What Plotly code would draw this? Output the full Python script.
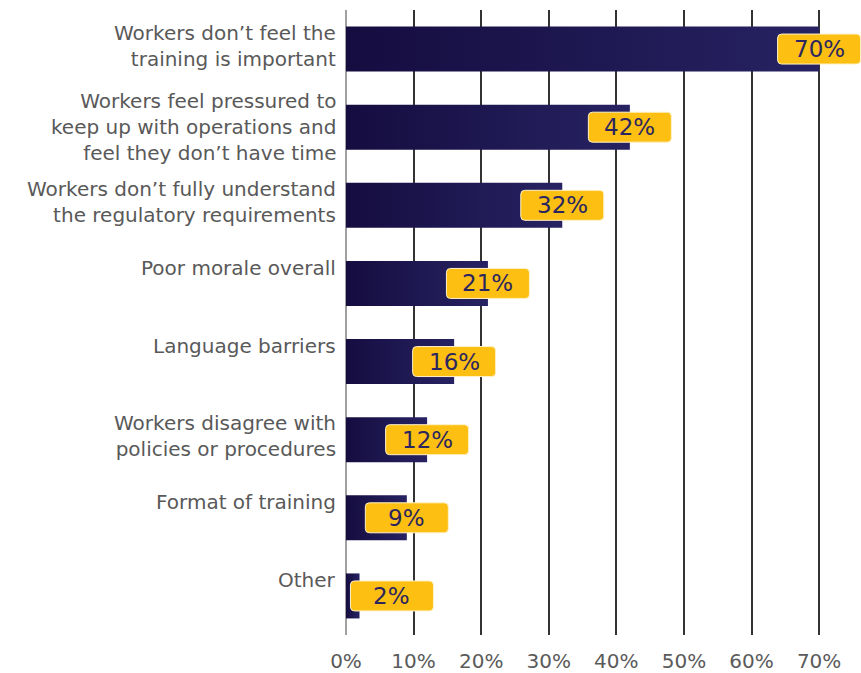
import plotly.graph_objects as go

categories = [
    "Workers don’t feel the<br>training is important",
    "Workers feel pressured to<br>keep up with operations and<br>feel they don’t have time",
    "Workers don’t fully understand<br>the regulatory requirements",
    "Poor morale overall",
    "Language barriers",
    "Workers disagree with<br>policies or procedures",
    "Format of training",
    "Other",
]
values = [70, 42, 32, 21, 16, 12, 9, 2]
x_ticks = [0, 10, 20, 30, 40, 50, 60, 70]
x_tick_labels = ["0%", "10%", "20%", "30%", "40%", "50%", "60%", "70%"]

FONT = "DejaVu Sans"
BAR_HALF = 0.288
C_DARK = "#150d40"
C_LIGHT = "#272262"
YELLOW = "#fdbf12"
TEXT_NAVY = "#2b2660"
LABEL_GREY = "#595959"

fig = go.Figure()

for i, v in enumerate(values):
    fig.add_trace(go.Scatter(
        x=[0, v, v, 0, 0],
        y=[i - BAR_HALF, i - BAR_HALF, i + BAR_HALF, i + BAR_HALF, i - BAR_HALF],
        fill="toself",
        mode="none",
        fillgradient=dict(type="horizontal",
                          colorscale=[[0, C_DARK], [1, C_LIGHT]]),
        hoverinfo="skip",
        showlegend=False,
    ))

# label boxes (rounded), centered at bar end but kept right of the axis
W2, H2, R = 41.5, 15, 4
rounded = (f"M {-W2+R},{-H2} L {W2-R},{-H2} Q {W2},{-H2} {W2},{-H2+R} "
           f"L {W2},{H2-R} Q {W2},{H2} {W2-R},{H2} L {-W2+R},{H2} "
           f"Q {-W2},{H2} {-W2},{H2-R} L {-W2},{-H2+R} Q {-W2},{-H2} {-W2+R},{-H2} Z")
for i, v in enumerate(values):
    cx = max(v, 6.8)
    fig.add_shape(
        type="path", xref="x", yref="y",
        xsizemode="pixel", ysizemode="pixel",
        xanchor=cx, yanchor=i, path=rounded,
        fillcolor=YELLOW, line=dict(color="#fff2c8", width=1),
        layer="above",
    )
    fig.add_annotation(
        x=cx, y=i, xref="x", yref="y", text=f"{v}%", showarrow=False,
        font=dict(family=FONT, size=23, color=TEXT_NAVY),
        xanchor="center", yanchor="middle",
    )

# category labels (left of axis); single-line labels sit a bit higher
line_shift = {1: 15.5, 2: 3.5, 3: 0}
for i, c in enumerate(categories):
    n = c.count("<br>") + 1
    fig.add_annotation(
        x=0, y=i, xref="paper", yref="y", text=c, showarrow=False,
        xanchor="right", yanchor="middle", align="right",
        xshift=-8, yshift=line_shift[n],
        font=dict(family=FONT, size=20, color=LABEL_GREY),
    )

fig.update_layout(
    width=861, height=673,
    margin=dict(l=346, r=0, t=10, b=38),
    paper_bgcolor="white", plot_bgcolor="white",
    font=dict(family=FONT, color=LABEL_GREY),
    xaxis=dict(
        range=[0, 76.2],
        tickvals=x_ticks, ticktext=x_tick_labels,
        showgrid=True, gridcolor="#333333", gridwidth=2,
        zeroline=True, zerolinecolor="#a0a0a0", zerolinewidth=2,
        showline=False, ticks="",
        tickfont=dict(family=FONT, size=20, color="#5a5a5a"),
        ticklabelstandoff=12,
        fixedrange=True,
    ),
    yaxis=dict(
        range=[7.5, -0.5],
        showticklabels=False,
        showgrid=False, zeroline=False, showline=False, ticks="",
        fixedrange=True,
    ),
)

fig.write_html("out.html")
